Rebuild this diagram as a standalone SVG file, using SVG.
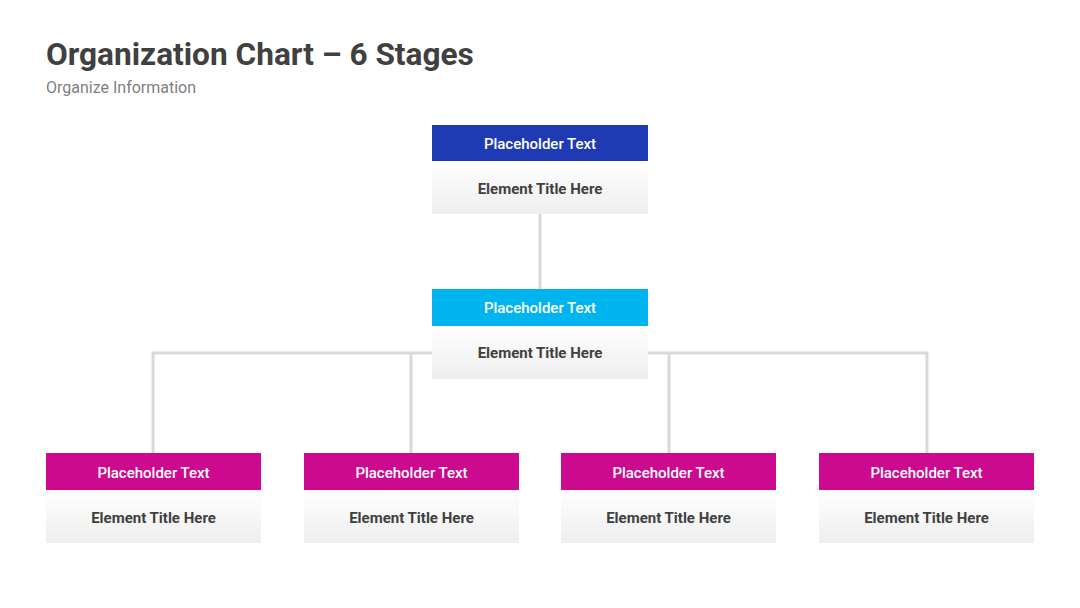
<svg xmlns="http://www.w3.org/2000/svg" width="1080" height="608" viewBox="0 0 1080 608">
<defs>
<linearGradient id="bodyGrad" x1="0" y1="0" x2="0" y2="1">
<stop offset="0" stop-color="#ffffff"/>
<stop offset="1" stop-color="#eeeeee"/>
</linearGradient>
<style>
.title{font-family:Roboto,"Liberation Sans",sans-serif;font-weight:bold;font-size:31.6px;fill:#404040}
.sub{font-family:Roboto,"Liberation Sans",sans-serif;font-size:16px;fill:#7f7f7f}
.head{font-family:Roboto,"Liberation Sans",sans-serif;font-weight:500;font-size:15px;fill:#ffffff;text-anchor:middle}
.body{font-family:Roboto,"Liberation Sans",sans-serif;font-weight:bold;font-size:15px;fill:#404040;text-anchor:middle}
.bodyrect{fill:url(#bodyGrad)}
.conn{stroke:#d9d9d9;stroke-width:3;fill:none}
</style>
</defs>
<rect width="1080" height="608" fill="#ffffff"/>
<text class="title" x="46" y="65">Organization Chart – 6 Stages</text>
<text class="sub" x="46" y="93">Organize Information</text>
<g id="connectors">
<path class="conn" d="M540 214 V289"/>
<path class="conn" d="M153 453 V353 H432 M648 353 H927 V453"/>
<path class="conn" d="M411 353 V453 M669 353 V453"/>
</g>
<g id="node-top">
<rect x="432" y="125" width="216" height="36" fill="#1f3bb4"/>
<rect class="bodyrect" x="432" y="161" width="216" height="53"/>
<text class="head" x="540" y="148.5">Placeholder Text</text>
<text class="body" x="540" y="193.5">Element Title Here</text>
</g>
<g id="node-mid">
<rect x="432" y="289" width="216" height="37" fill="#00b4f0"/>
<rect class="bodyrect" x="432" y="326" width="216" height="53"/>
<text class="head" x="540" y="313">Placeholder Text</text>
<text class="body" x="540" y="358">Element Title Here</text>
</g>
<g id="node-b1">
<rect x="46" y="453" width="215" height="37" fill="#cc0a8f"/>
<rect class="bodyrect" x="46" y="490" width="215" height="53"/>
<text class="head" x="153.5" y="477.5">Placeholder Text</text>
<text class="body" x="153.5" y="522.5">Element Title Here</text>
</g>
<g id="node-b2">
<rect x="304" y="453" width="215" height="37" fill="#cc0a8f"/>
<rect class="bodyrect" x="304" y="490" width="215" height="53"/>
<text class="head" x="411.5" y="477.5">Placeholder Text</text>
<text class="body" x="411.5" y="522.5">Element Title Here</text>
</g>
<g id="node-b3">
<rect x="561" y="453" width="215" height="37" fill="#cc0a8f"/>
<rect class="bodyrect" x="561" y="490" width="215" height="53"/>
<text class="head" x="668.5" y="477.5">Placeholder Text</text>
<text class="body" x="668.5" y="522.5">Element Title Here</text>
</g>
<g id="node-b4">
<rect x="819" y="453" width="215" height="37" fill="#cc0a8f"/>
<rect class="bodyrect" x="819" y="490" width="215" height="53"/>
<text class="head" x="926.5" y="477.5">Placeholder Text</text>
<text class="body" x="926.5" y="522.5">Element Title Here</text>
</g>
</svg>
